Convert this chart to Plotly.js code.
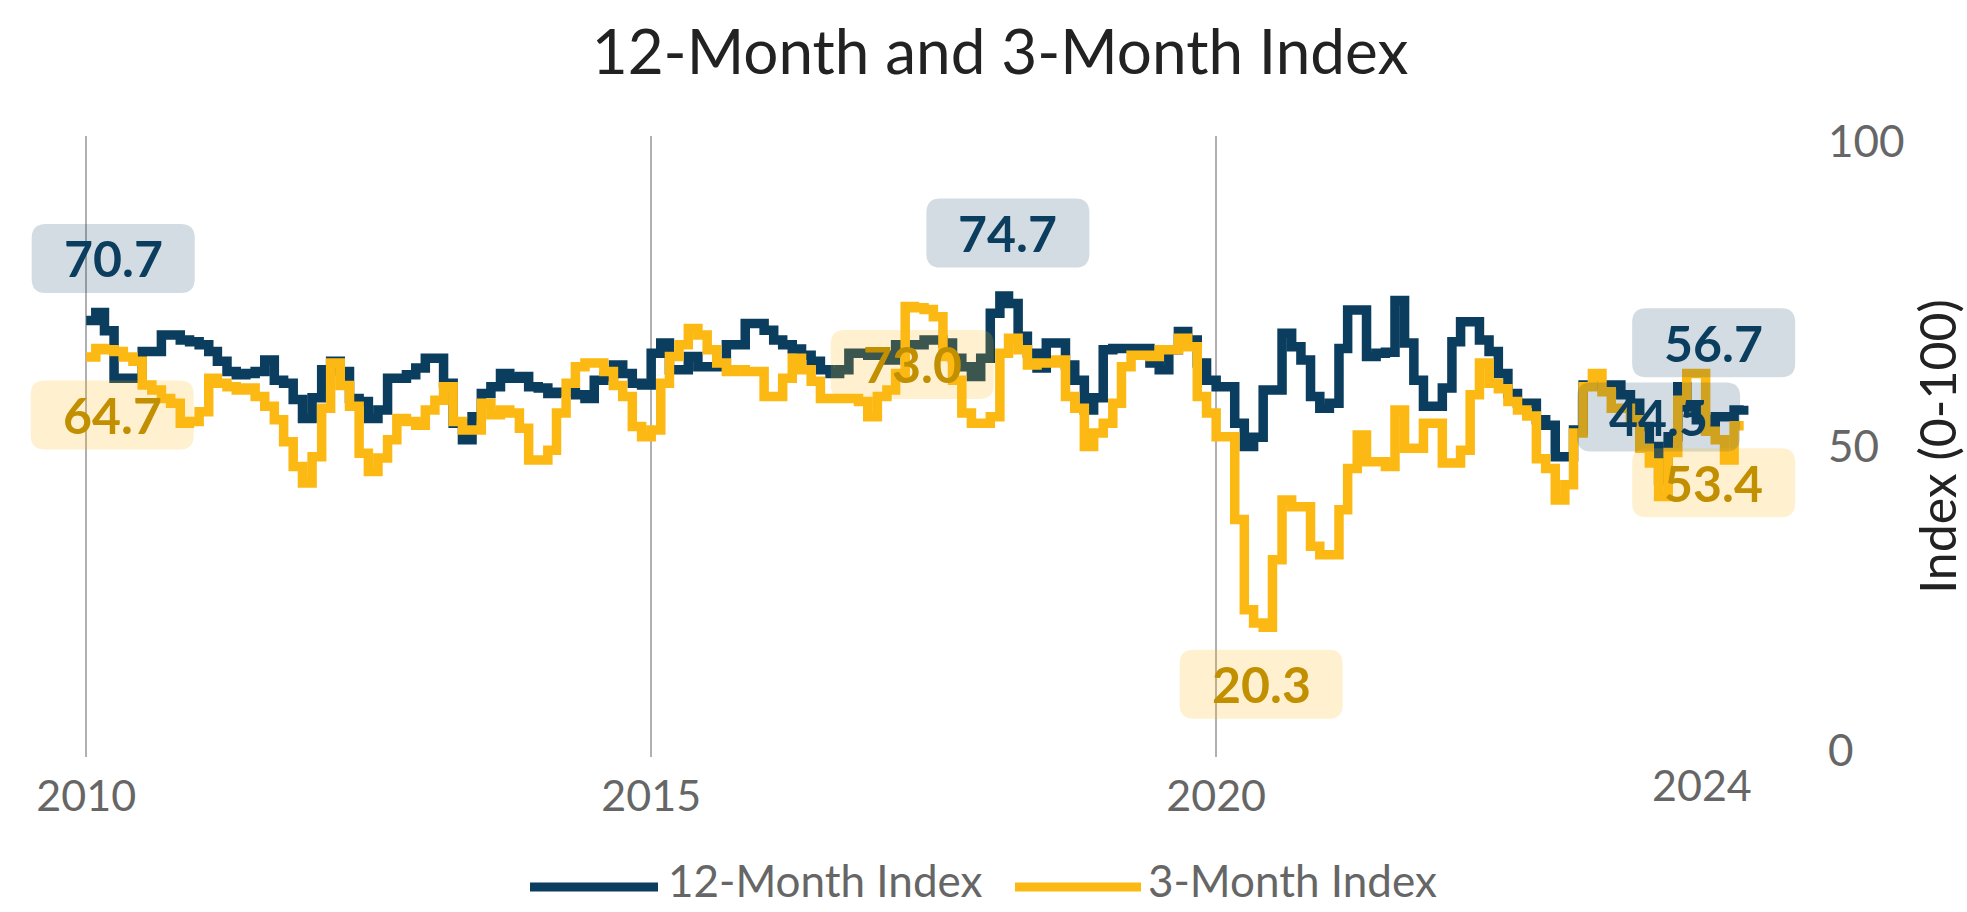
<!DOCTYPE html>
<html><head><meta charset="utf-8">
<script src="https://cdn.plot.ly/plotly-3.0.1.min.js"></script>
<style>html,body{margin:0;padding:0;background:#fff}#chart{width:1967px;height:912px}</style>
</head><body><div id="chart"></div>
<script>
// Monthly series starting January 2010
const startYear = 2010;
const index12 = [
 70.7,72.0,69.0,61.2,61.2,61.2,65.6,65.6,68.3,68.3,67.5,67.2,
 66.7,65.6,64.0,62.3,61.8,62.0,62.3,64.2,60.9,60.4,57.7,54.6,
 58.0,62.6,64.0,62.3,57.9,57.4,54.6,56.0,61.2,61.2,61.8,62.9,
 64.5,64.5,60.4,53.8,51.1,54.9,58.7,59.8,62.0,61.2,61.5,59.8,
 59.6,58.7,58.9,58.9,58.5,57.9,60.9,61.5,63.4,62.0,60.4,60.1,
 65.3,67.0,62.6,62.6,64.8,63.1,63.1,63.1,66.7,66.7,70.2,70.2,
 69.1,67.5,66.7,66.0,65.0,64.0,62.6,62.0,62.6,65.3,65.3,65.0,
 65.0,64.2,66.7,66.7,66.7,67.5,67.5,67.0,64.5,63.1,61.5,64.5,
 71.9,74.7,73.5,68.1,65.3,62.9,67.0,67.0,63.4,60.9,56.0,58.0,
 65.9,66.1,66.1,66.1,66.1,63.7,62.6,65.9,68.9,67.5,63.7,60.9,
 59.8,59.8,53.8,50.0,51.5,59.3,59.3,68.6,66.4,64.2,58.2,56.3,
 57.1,66.1,72.4,72.4,64.8,65.3,65.5,74.0,67.0,60.9,56.6,56.6,
 59.6,67.2,70.5,70.5,67.5,65.6,62.0,58.7,57.1,57.1,54.4,53.5,
 48.3,48.3,52.7,60.1,60.1,60.1,60.1,58.5,57.1,53.3,50.0,44.5,
 51.6,59.8,56.5,54.4,52.7,54.9,54.9,56.0,56.7
];
const index3 = [
 64.7,66.1,65.9,65.6,64.7,64.0,60.1,59.3,57.9,57.1,53.8,54.1,
 55.7,61.2,60.4,59.8,59.3,59.6,58.2,56.6,54.4,50.8,46.7,44.0,
 48.3,56.3,63.7,60.0,56.6,48.9,45.9,48.1,51.1,54.6,54.1,53.5,
 56.0,57.6,59.8,54.1,52.7,52.7,57.1,55.2,56.0,55.5,53.0,47.8,
 47.8,49.4,55.5,60.4,63.1,63.7,63.7,62.3,60.0,58.2,53.3,51.6,
 52.7,60.4,64.8,66.7,69.4,68.3,65.9,63.7,62.3,62.6,62.3,62.3,
 58.2,58.2,61.2,64.5,62.6,60.7,57.9,57.9,57.9,57.9,57.4,54.9,
 58.2,59.3,62.0,73.0,72.8,72.5,71.3,64.8,60.9,55.5,53.8,53.8,
 54.9,65.3,67.8,65.9,63.4,63.7,63.7,64.2,58.2,56.3,50.0,52.2,
 53.8,57.1,63.1,65.0,65.0,64.8,65.9,65.9,67.8,66.4,58.2,55.5,
 51.6,51.6,38.0,23.2,21.0,20.3,31.4,41.2,40.1,40.1,33.6,32.2,
 32.2,39.6,46.4,51.9,47.5,47.5,46.7,56.0,49.7,49.7,53.8,53.8,
 47.3,47.3,49.4,58.5,63.7,60.4,59.5,57.4,56.0,55.0,48.0,46.4,
 41.2,43.7,52.2,59.8,62.0,59.0,56.3,56.3,54.4,49.7,47.3,41.8,
 49.0,57.6,62.0,62.0,52.5,51.1,47.8,53.4,53.4
];
const months = index12.map((_, i) => {
  const y = startYear + Math.floor(i / 12), m = (i % 12) + 1;
  return y + '-' + String(m).padStart(2, '0') + '-01';
});
const seriesNames = ['12-Month Index', '3-Month Index'];
const xTickVals = ['2010-01-01', '2015-01-01', '2020-01-01'];
const xTickText = ['2010', '2015', '2020'];
const extraXLabel = {x: '2024-04-19', text: '2024'};
const yTickVals = [0, 50, 100];

const NAVY = '#0A3D5E', GOLD = '#FDB913';
const NAVY_TXT = '#0A3D5E', GOLD_TXT = '#C28F00';
const NAVY_BG = 'rgba(11,60,93,0.18)', GOLD_BG = 'rgba(253,185,19,0.2)';
const FONT = 'Lato, "Open Sans", sans-serif';

const W = 1967, H = 912;
const M = {l: 20, r: 180, t: 136, b: 155};
const PW = W - M.l - M.r, PH = H - M.t - M.b;
const X_RANGE = ['2009-06-01', '2025-01-19'];
const Y_RANGE = [-1, 101];
const px2x = px => (px - M.l) / PW;
const py2y = py => (H - M.b - py) / PH;
const t0 = Date.parse(X_RANGE[0]), t1 = Date.parse(X_RANGE[1]);
const xPix = d => M.l + (Date.parse(d) - t0) / (t1 - t0) * PW;
const yPix = v => M.t + (Y_RANGE[1] - v) / (Y_RANGE[1] - Y_RANGE[0]) * PH;

function roundBox(cx, cy, w, h, r, fill) {
  const x0 = cx - w / 2, x1 = cx + w / 2, y0 = cy - h / 2, y1 = cy + h / 2;
  const P = (a, b) => px2x(a).toFixed(5) + ',' + py2y(b).toFixed(5);
  const path = 'M' + P(x0 + r, y0) + ' L' + P(x1 - r, y0) + ' Q' + P(x1, y0) + ' ' + P(x1, y0 + r) +
    ' L' + P(x1, y1 - r) + ' Q' + P(x1, y1) + ' ' + P(x1 - r, y1) +
    ' L' + P(x0 + r, y1) + ' Q' + P(x0, y1) + ' ' + P(x0, y1 - r) +
    ' L' + P(x0, y0 + r) + ' Q' + P(x0, y0) + ' ' + P(x0 + r, y0) + ' Z';
  return {type: 'path', xref: 'paper', yref: 'paper', path: path, fillcolor: fill, line: {width: 0}, layer: 'above'};
}

function idxOf(arr, fn) { let b = 0; arr.forEach((v, i) => { if (fn(v, arr[b])) b = i; }); return b; }
const annotations = [], shapes = [];
function label(arr, i, txt, bg, xs, ys) {
  const cx = xPix(months[i]) + xs, cy = yPix(arr[i]) - ys;
  shapes.push(roundBox(cx, cy, 163, 69, 14, bg));
  annotations.push({x: months[i], y: arr[i], xref: 'x', yref: 'y', text: arr[i].toFixed(1),
    showarrow: false, xshift: xs, yshift: ys, xanchor: 'center', yanchor: 'middle',
    font: {family: FONT, size: 50, color: txt, weight: 'bold'}});
}
const n = index12.length - 1;
label(index12, 0, NAVY_TXT, NAVY_BG, 27, 62);
label(index12, idxOf(index12, (v, b) => v > b), NAVY_TXT, NAVY_BG, 8, 63);
label(index12, idxOf(index12, (v, b) => v < b), NAVY_TXT, NAVY_BG, 0, 63);
label(index12, n, NAVY_TXT, NAVY_BG, -30, 63);
label(index3, 0, GOLD_TXT, GOLD_BG, 26, -58);
label(index3, idxOf(index3, (v, b) => v > b), GOLD_TXT, GOLD_BG, 7, -58);
label(index3, idxOf(index3, (v, b) => v < b), GOLD_TXT, GOLD_BG, -2, -57);
label(index3, n, GOLD_TXT, GOLD_BG, -30, -57);

annotations.push(
  {x: extraXLabel.x, xref: 'x', y: py2y(784), yref: 'paper', text: extraXLabel.text, showarrow: false,
   xanchor: 'center', yanchor: 'middle', font: {family: FONT, size: 43, color: '#666666'}},
  // custom legend text
  {x: px2x(666), y: py2y(880), xref: 'paper', yref: 'paper', text: seriesNames[0], showarrow: false,
   xanchor: 'left', yanchor: 'middle', font: {family: FONT, size: 44, color: '#666666'}},
  {x: px2x(1146), y: py2y(880), xref: 'paper', yref: 'paper', text: seriesNames[1], showarrow: false,
   xanchor: 'left', yanchor: 'middle', font: {family: FONT, size: 44, color: '#666666'}}
);
shapes.push(
  {type: 'line', xref: 'paper', yref: 'paper', x0: px2x(530), x1: px2x(658), y0: py2y(887), y1: py2y(887),
   line: {color: NAVY, width: 9}},
  {type: 'line', xref: 'paper', yref: 'paper', x0: px2x(1015), x1: px2x(1141), y0: py2y(887), y1: py2y(887),
   line: {color: GOLD, width: 9}}
);

const traces = [
  {x: months, y: index12, name: seriesNames[0], type: 'scatter', mode: 'lines',
   line: {color: NAVY, width: 9.5, shape: 'hv'}},
  {x: months, y: index3, name: seriesNames[1], type: 'scatter', mode: 'lines',
   line: {color: GOLD, width: 9.5, shape: 'hv'}}
];

const layout = {
  width: W, height: H, margin: M, showlegend: false,
  paper_bgcolor: '#ffffff', plot_bgcolor: '#ffffff',
  font: {family: FONT, color: '#666666'},
  title: {text: '12-Month and 3-Month Index', x: 1000 / W, xref: 'container', xanchor: 'center',
          y: 1 - 52 / H, yref: 'container', yanchor: 'middle', font: {family: FONT, size: 62, color: '#222222'}},
  xaxis: {type: 'date', range: X_RANGE, tickvals: xTickVals, ticktext: xTickText,
          showgrid: true, gridcolor: '#b0b0b0', gridwidth: 2.5, zeroline: false, showline: false, ticks: '',
          tickfont: {family: FONT, size: 43, color: '#666666'}, ticklabelstandoff: 10, fixedrange: true},
  yaxis: {side: 'right', range: Y_RANGE, tickvals: yTickVals, showgrid: false, zeroline: false, showline: false,
          ticks: '', tickfont: {family: FONT, size: 44, color: '#666666'}, ticklabelstandoff: 40,
          title: {text: 'Index (0-100)', font: {family: FONT, size: 50, color: '#222222'}, standoff: 20},
          fixedrange: true},
  annotations: annotations, shapes: shapes
};
Plotly.newPlot('chart', traces, layout, {staticPlot: true});
</script>
</body></html>
